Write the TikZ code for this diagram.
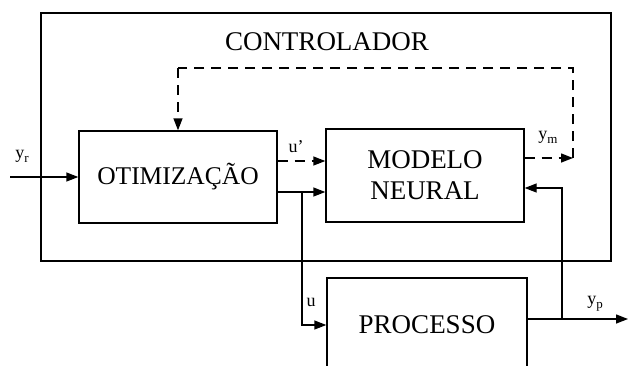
\documentclass[tikz,border=0pt]{standalone}
\usepackage{fontspec}
\setmainfont{Liberation Serif}
\usetikzlibrary{arrows.meta}

% subscript for signal names
\newcommand{\sgsub}[1]{\raisebox{-4pt}{\fontsize{13}{13}\selectfont #1}}

\begin{document}
\begin{tikzpicture}[x=1pt,y=-1pt,
  blk/.style={draw, line width=1.4pt, rectangle, inner sep=0pt, align=center,
    font=\fontsize{27}{31}\selectfont},
  frame/.style={draw, line width=1.3pt, rectangle, inner sep=0pt},
  sig/.style={line width=1.4pt, -{Triangle[length=12pt,width=9pt]}},
  sigd/.style={sig, dash pattern=on 10pt off 7pt},
  dline/.style={line width=1.4pt, dash pattern=on 10pt off 7pt},
  lbl/.style={inner sep=0pt, font=\fontsize{18}{20}\selectfont},
  ttl/.style={inner sep=0pt, font=\fontsize{27}{31}\selectfont}
]
\useasboundingbox (0,0) rectangle (629,365);
\clip (0,0) rectangle (629,365);

% controller frame and its title
\node[frame, minimum width=570, minimum height=248] (ctrl) at (326,137) {};
\node[ttl] (ctitle) at (327,42) {CONTROLADOR};

% blocks
\node[blk, minimum width=198, minimum height=92, font=\fontsize{25.5}{29}\selectfont]
  (opt) at (178,177) {OTIMIZAÇÃO};
\node[blk, minimum width=198, minimum height=93] (mod) at (425,175.5) {MODELO\\NEURAL};
\node[blk, minimum width=200, minimum height=94] (proc) at (427,325) {PROCESSO};

% helper coordinates
\coordinate (yin) at (10,177);
\coordinate (hup) at (0,161);
\coordinate (hu) at (0,192);
\coordinate (hym) at (0,158);
\coordinate (hyp) at (0,319);
\coordinate (hfb) at (0,188);
\coordinate (ju) at (302,0);
\coordinate (jy) at (562,0);
\coordinate (fbr) at (573,158);
\coordinate (fbtr) at (573,68);
\coordinate (fbtl) at (178,68);
\coordinate (yout) at (628,319);

% reference input
\draw[sig] (yin) -- (opt.west);

% optimiser outputs
\draw[sigd] (opt.east |- hup) -- (mod.west |- hup);
\draw[sig] (opt.east |- hu) -- (mod.west |- hu);
\draw[sig] (ju |- hu) |- (proc.west);

% model output fed back to the optimiser
\draw[sigd] (mod.east |- hym) -- (fbr);
\draw[dline] (fbr) -- (fbtr) -- (fbtl);
\draw[sigd] (fbtl) -- (opt.north);

% plant output
\draw[sig] (proc.east |- hyp) -- (yout);
\draw[sig] (jy |- hyp) |- (mod.east |- hfb);

% signal labels
\node[lbl] (lyr) at (22,156) {y\sgsub{r}};
\node[lbl] (lup) at (296,147) {u'};
\node[lbl] (lym) at (548,137) {y\sgsub{m}};
\node[lbl] (lu) at (311,302) {u};
\node[lbl] (lyp) at (595,304) {y\sgsub{p}};
\end{tikzpicture}
\end{document}
